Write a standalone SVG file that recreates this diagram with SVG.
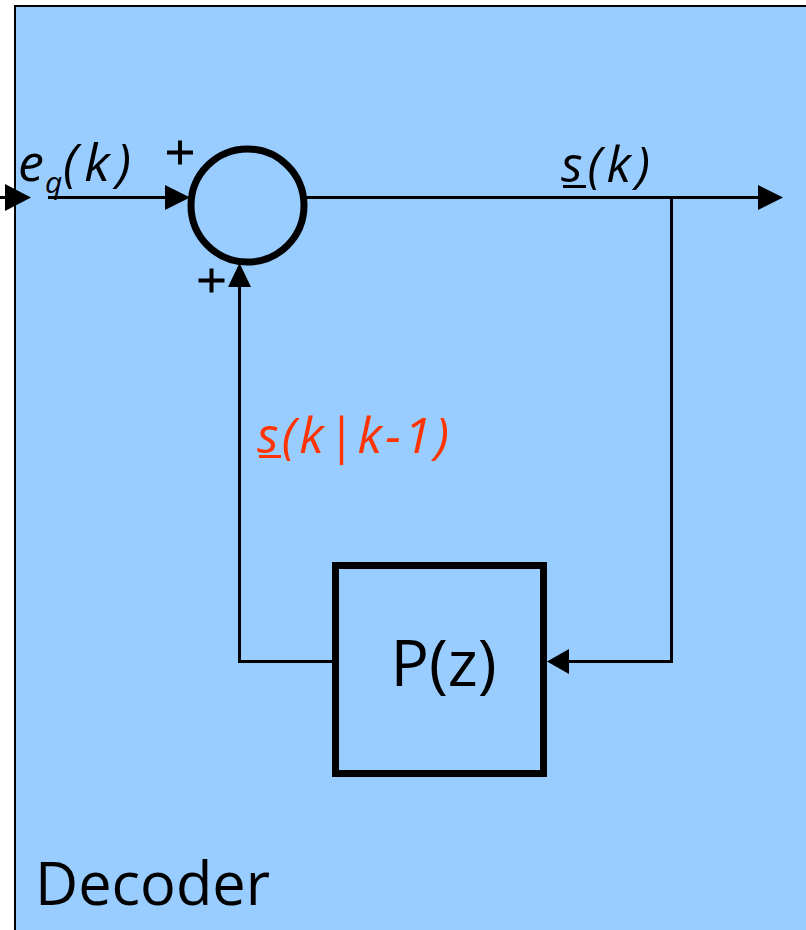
<svg xmlns="http://www.w3.org/2000/svg" width="806" height="930" viewBox="0 0 806 930">
<defs>
<style>
.wire{stroke:#000;stroke-width:3;fill:none}
.head{fill:#000;stroke:none}
.lbl{font-family:"Open Sans","DejaVu Sans",sans-serif;fill:#000}
.it{font-style:italic}
.red{fill:#FF3300}
.plus{stroke:#000;stroke-width:4;fill:none}
</style>
</defs>
<rect width="806" height="930" fill="#FFFFFF"/>
<g id="decoder">
<rect x="15" y="6" width="800" height="940" fill="#99CCFF" stroke="#000" stroke-width="2"/>
<text class="lbl" x="35" y="905" font-size="59.5">Decoder</text>
</g>
<g id="summer">
<circle cx="247.5" cy="205.5" r="56.5" fill="none" stroke="#000" stroke-width="7"/>
<path class="plus" d="M167,152.5 H193 M180,140.5 V164.5"/>
<path class="plus" d="M198.5,280.5 H224.5 M211.5,268.5 V292.5"/>
</g>
<g id="predictor">
<rect x="335.5" y="565.5" width="208" height="208" fill="none" stroke="#000" stroke-width="7"/>
<text class="lbl" x="443.5" y="686" font-size="64" text-anchor="middle">P(z)</text>
</g>
<g id="labels">
<text class="lbl it" y="181" font-size="52"><tspan x="18">e</tspan><tspan x="45" y="193" font-size="30">q</tspan><tspan x="63" y="181" font-size="52" textLength="68" lengthAdjust="spacing">(k)</tspan></text>
<text class="lbl it" x="561" y="182" font-size="50" textLength="89" lengthAdjust="spacing">s(k)</text>
<line x1="563" y1="186.5" x2="586" y2="186.5" stroke="#000" stroke-width="3"/>
<text class="lbl it red" x="257" y="453" font-size="50" textLength="192" lengthAdjust="spacing">s(k|k-1)</text>
<line x1="259" y1="456.5" x2="281" y2="456.5" stroke="#FF3300" stroke-width="3"/>
</g>
<g id="connectors">
<line class="wire" x1="0" y1="197.5" x2="10" y2="197.5"/>
<polygon class="head" points="5,184 31,197.5 5,211"/>
<line class="wire" x1="48" y1="197.5" x2="168" y2="197.5"/>
<polygon class="head" points="165,185 190,197.5 165,210"/>
<line class="wire" x1="306" y1="197.5" x2="760" y2="197.5"/>
<polygon class="head" points="758,185 783,197.5 758,210"/>
<polyline class="wire" points="671.5,197.5 671.5,661.5 567,661.5"/>
<polygon class="head" points="569,649 547,661.5 569,674"/>
<polyline class="wire" points="332,661.5 239.5,661.5 239.5,284"/>
<polygon class="head" points="228,287 239.5,263 251,287"/>
</g>
</svg>
